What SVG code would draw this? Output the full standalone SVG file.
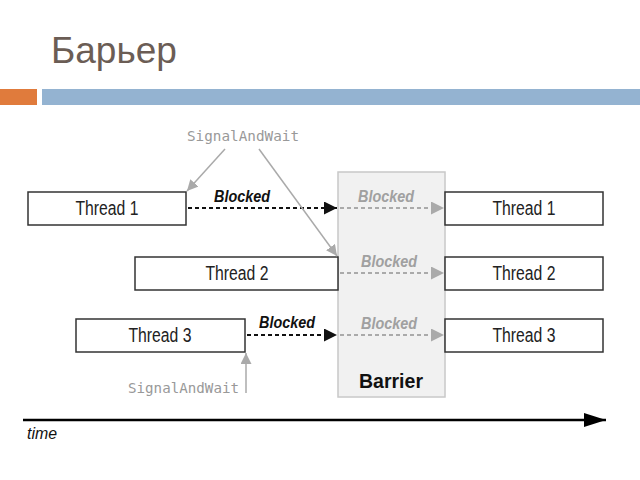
<svg xmlns="http://www.w3.org/2000/svg" width="640" height="480" viewBox="0 0 640 480">
<style>
.box{fill:#fff;stroke:#333;stroke-width:1.5}
.lbl{font-family:"Liberation Sans",Arial,sans-serif;font-size:20px;fill:#222;text-anchor:middle}
.blk{font-family:"Liberation Sans",Arial,sans-serif;font-size:16px;font-weight:bold;font-style:italic;fill:#111;text-anchor:middle}
.blkg{font-family:"Liberation Sans",Arial,sans-serif;font-size:16px;font-weight:bold;font-style:italic;fill:#a0a0a0;text-anchor:middle}
.sig{font-family:"DejaVu Sans Mono","Liberation Mono",monospace;font-size:14px;fill:#999}
.dk{stroke:#111;stroke-width:2;stroke-dasharray:4,3;fill:none}
.gr{stroke:#aaa;stroke-width:2;stroke-dasharray:4,3;fill:none}
.ptr{stroke:#aaa;stroke-width:1.5;fill:none}
</style>
<defs>
<marker id="ab" viewBox="0 0 10 10" refX="10" refY="5" markerWidth="13" markerHeight="13" markerUnits="userSpaceOnUse" orient="auto"><path d="M0,0 L10,5 L0,10 z" fill="#111"/></marker>
<marker id="ag" viewBox="0 0 10 10" refX="10" refY="5" markerWidth="13" markerHeight="13" markerUnits="userSpaceOnUse" orient="auto"><path d="M0,0 L10,5 L0,10 z" fill="#aaa"/></marker>
<marker id="ap" viewBox="0 0 10 10" refX="10" refY="5" markerWidth="11" markerHeight="11" markerUnits="userSpaceOnUse" orient="auto"><path d="M0,0 L10,5 L0,10 z" fill="#aaa"/></marker>
<marker id="at" viewBox="0 0 10 10" refX="10" refY="5" markerWidth="22" markerHeight="14" markerUnits="userSpaceOnUse" orient="auto" preserveAspectRatio="none"><path d="M0,0 L10,5 L0,10 z" fill="#000"/></marker>
</defs>
<rect width="640" height="480" fill="#fff"/>
<g id="title">
<text x="51" y="63" font-family="'Liberation Sans',Arial,sans-serif" font-size="37" fill="#6b5d55">Барьер</text>
<rect x="0" y="89" width="37" height="16" fill="#e07b3c"/>
<rect x="42" y="89" width="598" height="16" fill="#94b3d1"/>
</g>
<g id="barrier">
<rect x="338" y="172" width="107" height="225" fill="#f1f1f1" stroke="#c8c8c8" stroke-width="1.5"/>
<text x="391" y="388" font-family="'Liberation Sans',Arial,sans-serif" font-size="21" font-weight="bold" fill="#111" text-anchor="middle" textLength="64" lengthAdjust="spacingAndGlyphs">Barrier</text>
</g>
<g id="thread1-left"><rect class="box" x="28" y="192" width="158" height="33"/><text class="lbl" x="107" y="215" textLength="63" lengthAdjust="spacingAndGlyphs">Thread 1</text></g>
<g id="thread2-left"><rect class="box" x="135" y="257" width="203" height="33"/><text class="lbl" x="237" y="280" textLength="63" lengthAdjust="spacingAndGlyphs">Thread 2</text></g>
<g id="thread3-left"><rect class="box" x="76" y="319" width="169" height="33"/><text class="lbl" x="160" y="342" textLength="63" lengthAdjust="spacingAndGlyphs">Thread 3</text></g>
<g id="thread1-right"><rect class="box" x="445" y="192" width="158" height="33"/><text class="lbl" x="524" y="215" textLength="63" lengthAdjust="spacingAndGlyphs">Thread 1</text></g>
<g id="thread2-right"><rect class="box" x="445" y="257" width="158" height="33"/><text class="lbl" x="524" y="280" textLength="63" lengthAdjust="spacingAndGlyphs">Thread 2</text></g>
<g id="thread3-right"><rect class="box" x="445" y="319" width="158" height="33"/><text class="lbl" x="524" y="342" textLength="63" lengthAdjust="spacingAndGlyphs">Thread 3</text></g>
<g id="connectors">
<line class="dk" x1="188" y1="208" x2="337" y2="208" marker-end="url(#ab)"/>
<line class="gr" x1="340" y1="208" x2="444" y2="208" marker-end="url(#ag)"/>
<line class="gr" x1="340" y1="273" x2="444" y2="273" marker-end="url(#ag)"/>
<line class="dk" x1="247" y1="335" x2="337" y2="335" marker-end="url(#ab)"/>
<line class="gr" x1="340" y1="335" x2="444" y2="335" marker-end="url(#ag)"/>
<line class="ptr" x1="225" y1="149" x2="187" y2="191" marker-end="url(#ap)"/>
<line class="ptr" x1="259" y1="149" x2="337" y2="256" marker-end="url(#ap)"/>
<line class="ptr" x1="246" y1="393" x2="246" y2="353" marker-end="url(#ap)"/>
<line x1="23" y1="420" x2="606" y2="420" stroke="#000" stroke-width="2.5" marker-end="url(#at)"/>
</g>
<g id="labels">
<text class="blk" x="242" y="202" textLength="56" lengthAdjust="spacingAndGlyphs">Blocked</text>
<text class="blkg" x="386" y="202" textLength="56" lengthAdjust="spacingAndGlyphs">Blocked</text>
<text class="blkg" x="389" y="267" textLength="56" lengthAdjust="spacingAndGlyphs">Blocked</text>
<text class="blk" x="287" y="328" textLength="56" lengthAdjust="spacingAndGlyphs">Blocked</text>
<text class="blkg" x="389" y="329" textLength="56" lengthAdjust="spacingAndGlyphs">Blocked</text>
<text class="sig" x="187" y="141" textLength="112" lengthAdjust="spacingAndGlyphs">SignalAndWait</text>
<text class="sig" x="128" y="393" textLength="111" lengthAdjust="spacingAndGlyphs">SignalAndWait</text>
<text x="27" y="439" font-family="'Liberation Sans',Arial,sans-serif" font-size="17" font-style="italic" fill="#111" textLength="30" lengthAdjust="spacingAndGlyphs">time</text>
</g>
</svg>
